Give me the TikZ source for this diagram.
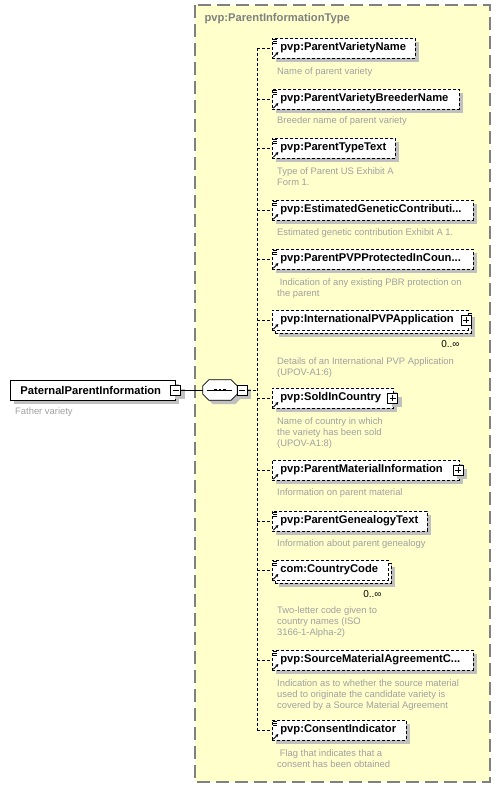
\documentclass[tikz,border=0pt]{standalone}
\usepackage{fontspec}
\setmainfont{Liberation Sans}
\usepackage{xcolor}
\usetikzlibrary{arrows.meta,shadows}

\definecolor{typebg}{HTML}{FFFFCC}
\definecolor{typeline}{HTML}{808080}
\definecolor{shadowgray}{HTML}{C0C0C0}
\definecolor{docgray}{HTML}{A0A0A0}

% icons in the corners of an element box
\newcommand\listicon[1]{%
  \draw[line width=0.8pt,solid] ([shift={(1.2pt,-1.4pt)}]#1.north west) -- +(4pt,0pt);
  \draw[line width=0.8pt,solid] ([shift={(1.2pt,-3.4pt)}]#1.north west) -- +(4pt,0pt);
  \draw[line width=0.8pt,solid] ([shift={(1.2pt,-5.4pt)}]#1.north west) -- +(4pt,0pt);}
\newcommand\refarrow[1]{%
  \draw[line width=0.9pt,solid,-{Stealth[length=3pt,width=3.2pt]}] ([shift={(1.3pt,1.3pt)}]#1.south west) -- +(5pt,5pt);}

\begin{document}
\begin{tikzpicture}[x=1pt,y=-1pt,
  every node/.style={font=\fontsize{9.4}{11}\selectfont},
  dropsh/.style={drop shadow={shadow xshift=4pt,shadow yshift=-4pt,fill=shadowgray,opacity=1}},
  elem/.style={draw,fill=white,dash pattern=on 3pt off 2pt,line width=0.8pt,minimum height=20pt,
    inner xsep=8pt,inner ysep=2pt,anchor=west,align=left,text width=#1,
    font=\fontsize{11.2}{13}\selectfont\bfseries,dropsh},
  multi/.style={drop shadow={shadow xshift=7pt,shadow yshift=-7pt,fill=shadowgray,opacity=1},
    copy shadow={shadow xshift=3pt,shadow yshift=-3pt}},
  doc/.style={text=docgray,anchor=north west,align=left,inner sep=0pt},
  occurs/.style={anchor=east,inner sep=0pt,font=\fontsize{10}{12}\selectfont},
  pmbox/.style={draw,solid,line width=0.8pt,fill=white,minimum size=10pt,inner sep=0pt},
  pmminus/.style={pmbox,path picture={\draw[line width=0.8pt] ([xshift=2pt]path picture bounding box.west) -- ([xshift=-2pt]path picture bounding box.east);}},
  pmplus/.style={pmbox,path picture={\draw[line width=0.8pt] ([xshift=2pt]path picture bounding box.west) -- ([xshift=-2pt]path picture bounding box.east) ([yshift=-2pt]path picture bounding box.north) -- ([yshift=2pt]path picture bounding box.south);}},
  conn/.style={dash pattern=on 3pt off 2pt,line width=0.8pt}]
\useasboundingbox (0,0) rectangle (501,787);

% complex type frame
\fill[typebg] (195,5) rectangle (490,782);
\draw[typeline,line width=1.6pt,dash pattern=on 13pt off 6pt] (195,5) rectangle (490,782);
\node[anchor=west,text=typeline,font=\fontsize{11.2}{13}\selectfont\bfseries] (typename) at (201,19) {pvp:ParentInformationType};

% the element and its sequence
\node[draw,fill=white,line width=0.8pt,minimum height=20pt,inner xsep=10pt,anchor=west,align=left,
  text width=145pt,font=\fontsize{11.2}{13}\selectfont\bfseries,dropsh] (ppi) at (10,390) {PaternalParentInformation};
\node[pmminus,dropsh] (ppim) at (ppi.east) {};
\node[doc] (ppidoc) at (15,407.4) {Father variety};

\node[minimum width=34pt,minimum height=20pt,inner sep=0pt] (seq) at (220,390) {};
\draw[fill=white,line width=0.8pt,dropsh] ([xshift=6pt]seq.north west) -- ([xshift=-6pt]seq.north east)
  -- ([yshift=-6pt]seq.north east) -- ([yshift=6pt]seq.south east) -- ([xshift=-6pt]seq.south east)
  -- ([xshift=6pt]seq.south west) -- ([yshift=6pt]seq.south west) -- ([yshift=-6pt]seq.north west) -- cycle;
\draw[line width=1pt] ([xshift=4pt]seq.west) -- ([xshift=-5pt]seq.east);
\fill ([shift={(-5.7pt,-1.4pt)}]seq.center) rectangle +(2.8pt,2.8pt);
\fill ([shift={(-1.4pt,-1.4pt)}]seq.center) rectangle +(2.8pt,2.8pt);
\fill ([shift={(2.9pt,-1.4pt)}]seq.center) rectangle +(2.8pt,2.8pt);
\node[pmminus,dropsh] (seqm) at ([xshift=5pt]seq.east) {};
\draw[line width=0.8pt] (ppim.east) -- (seq.west);
\coordinate (fork) at (257,390);

% children
\node[elem=127pt] (e1) at (272,48) {pvp:ParentVarietyName};
\node[doc] (d1) at (277,67.4) {Name of parent variety};

\node[elem=171pt] (e2) at (272,99) {pvp:ParentVarietyBreederName};
\node[doc] (d2) at (277,116.4) {Breeder name of parent variety};

\node[elem=107pt] (e3) at (272,148) {pvp:ParentTypeText};
\node[doc] (d3) at (277,167.4) {Type of Parent US Exhibit A\\Form 1.};

\node[elem=185pt] (e4) at (272,210) {pvp:EstimatedGeneticContributi...};
\node[doc] (d4) at (277,228.4) {Estimated genetic contribution Exhibit A 1.};

\node[elem=185pt] (e5) at (272,259) {pvp:ParentPVPProtectedInCoun...};
\node[doc] (d5) at (277,278.4) {\hspace{2.6pt}Indication of any existing PBR protection on\\the parent};

\node[elem=180pt,multi] (e6) at (272,320) {pvp:InternationalPVPApplication};
\node[pmplus] (e6p) at ([xshift=-2.5pt]e6.east) {};
\node[occurs] (o6) at ([shift={(-9pt,-14pt)}]e6.south east) {0..∞};
\node[doc] (d6) at (277,357) {Details of an International PVP Application\\(UPOV-A1:6)};

\node[elem=105pt] (e7) at (272,398) {pvp:SoldInCountry};
\node[pmplus,dropsh] (e7p) at ([xshift=-1pt]e7.east) {};
\node[doc] (d7) at (277,417.4) {Name of country in which\\the variety has been sold\\(UPOV-A1:8)};

\node[elem=171pt] (e8) at (272,470) {pvp:ParentMaterialInformation};
\node[pmplus,dropsh] (e8p) at ([xshift=-1.5pt]e8.east) {};
\node[doc] (d8) at (277,488.4) {Information on parent material};

\node[elem=139pt] (e9) at (272,521) {pvp:ParentGenealogyText};
\node[doc] (d9) at (277,539.4) {Information about parent genealogy};

\node[elem=100pt,multi] (e10) at (272,570) {com:CountryCode};
\node[occurs] (o10) at ([shift={(-7pt,-14pt)}]e10.south east) {0..∞};
\node[doc] (d10) at (277,606.4) {Two-letter code given to\\country names (ISO\\3166-1-Alpha-2)};

\node[elem=185pt] (e11) at (272,660) {pvp:SourceMaterialAgreementC...};
\node[doc] (d11) at (277,679) {Indication as to whether the source material\\used to originate the candidate variety is\\covered by a Source Material Agreement};

\node[elem=118pt] (e12) at (272,730) {pvp:ConsentIndicator};
\node[doc] (d12) at (277,749.4) {\hspace{2.6pt}Flag that indicates that a\\consent has been obtained};

% icons
\listicon{e1} \listicon{e2} \listicon{e3} \listicon{e4} \listicon{e5}
\listicon{e9} \listicon{e10} \listicon{e11} \listicon{e12}
\refarrow{e1} \refarrow{e2} \refarrow{e3} \refarrow{e4} \refarrow{e5} \refarrow{e6}
\refarrow{e7} \refarrow{e8} \refarrow{e9} \refarrow{e10} \refarrow{e11} \refarrow{e12}

% connectors
\draw[conn] (seqm.east) -- (fork);
\draw[conn] (e1.west -| fork) -- (e12.west -| fork);
\draw[conn] (e1.west -| fork) -- (e1.west);
\draw[conn] (e2.west -| fork) -- (e2.west);
\draw[conn] (e3.west -| fork) -- (e3.west);
\draw[conn] (e4.west -| fork) -- (e4.west);
\draw[conn] (e5.west -| fork) -- (e5.west);
\draw[conn] (e6.west -| fork) -- (e6.west);
\draw[conn] (e7.west -| fork) -- (e7.west);
\draw[conn] (e8.west -| fork) -- (e8.west);
\draw[conn] (e9.west -| fork) -- (e9.west);
\draw[conn] (e10.west -| fork) -- (e10.west);
\draw[conn] (e11.west -| fork) -- (e11.west);
\draw[conn] (e12.west -| fork) -- (e12.west);
\end{tikzpicture}
\end{document}
